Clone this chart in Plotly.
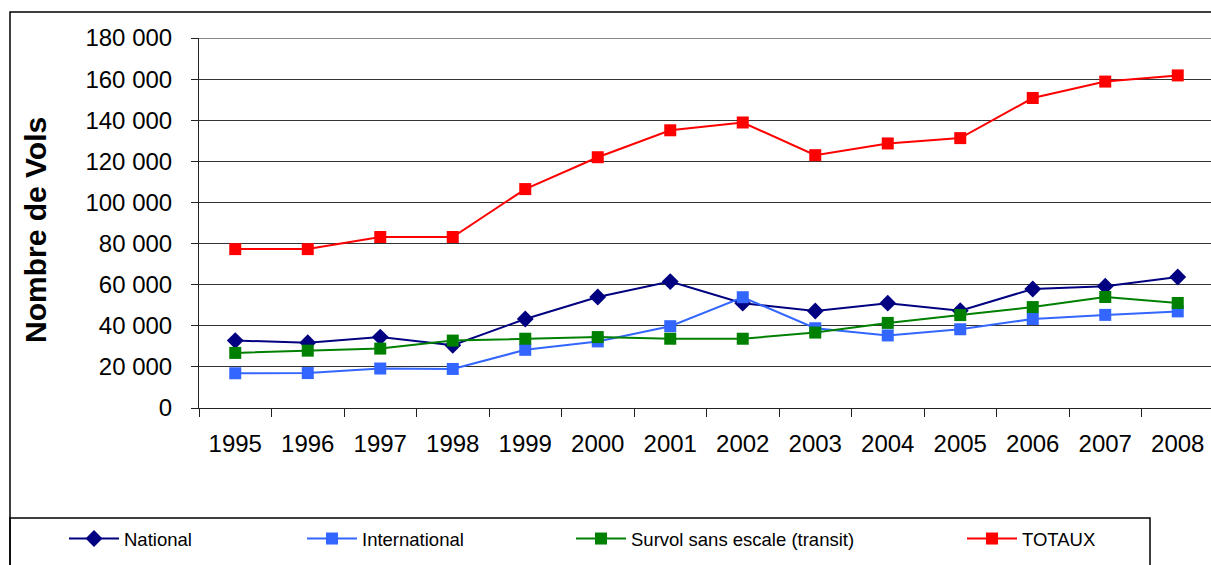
import plotly.graph_objects as go

years = ["1995", "1996", "1997", "1998", "1999", "2000", "2001",
         "2002", "2003", "2004", "2005", "2006", "2007", "2008"]
national = [32800, 31800, 34500, 30500, 43300, 54000, 61500,
            51000, 47200, 51000, 47300, 57900, 59200, 63700]
international = [16900, 17000, 19200, 19000, 28300, 32400, 39800,
                 53900, 38800, 35300, 38300, 43300, 45300, 47000]
survol = [26800, 27900, 28900, 32800, 33700, 34500, 33700,
          33700, 36700, 41400, 45200, 49100, 54000, 51100]
totaux = [77300, 77300, 83200, 83200, 106500, 122000, 135100,
          138900, 123000, 128700, 131300, 150800, 158800, 161800]

y_ticks = [0, 20000, 40000, 60000, 80000, 100000, 120000, 140000, 160000, 180000]
y_ticktext = ["0", "20 000", "40 000", "60 000", "80 000", "100 000",
              "120 000", "140 000", "160 000", "180 000"]

FONT = "Liberation Sans, Arial, sans-serif"

# pixel geometry helpers (plot area 199..1211 x 38..408)
L, R, T, B = 199, 1211, 38, 408
def px(x):
    return (x - L) / (R - L)
def py(y):
    return (B - y) / (B - T)

series = [
    ("National", national, "#000080", "diamond", 13, "legend"),
    ("International", international, "#3366FF", "square", 12, "legend2"),
    ("Survol sans escale (transit)", survol, "#008000", "square", 12, "legend3"),
    ("TOTAUX", totaux, "#FF0000", "square", 12, "legend4"),
]

fig = go.Figure()
for name, vals, col, sym, sz, lg in series:
    fig.add_trace(go.Scatter(
        x=years, y=vals, name=name, mode="lines+markers",
        line=dict(color=col, width=2),
        marker=dict(symbol=sym, size=sz, color=col),
        legend=lg, cliponaxis=False,
    ))

def legend_cfg(xpix):
    return dict(
        x=px(xpix), y=py(539), xanchor="left", yanchor="middle",
        orientation="h", bgcolor="rgba(0,0,0,0)", borderwidth=0,
        font=dict(family=FONT, size=18.5, color="black"),
        itemwidth=50, tracegroupgap=0,
    )

fig.update_layout(
    width=1211, height=565,
    margin=dict(l=L, r=1211 - R, t=T, b=565 - B, pad=0),
    paper_bgcolor="white", plot_bgcolor="white",
    showlegend=True,
    legend=legend_cfg(64),
    legend2=legend_cfg(302),
    legend3=legend_cfg(571),
    legend4=legend_cfg(962),
    xaxis=dict(
        type="category", range=[-0.5, 13.5 - 3 / 72.5],
        tickson="boundaries", ticks="outside", ticklen=8, tickcolor="#222",
        showline=True, linecolor="#222", linewidth=1,
        showgrid=False, tickfont=dict(family=FONT, size=24, color="black"),
        ticklabelstandoff=14,
    ),
    yaxis=dict(
        range=[0, 180000], tickvals=y_ticks, ticktext=y_ticktext,
        ticks="outside", ticklen=7, tickcolor="#222",
        showline=True, linecolor="#222", linewidth=1,
        showgrid=True, gridcolor="#333", gridwidth=1,
        zeroline=False,
        tickfont=dict(family=FONT, size=24, color="black"),
        ticklabelstandoff=14,
    ),
    annotations=[dict(
        text="<b>Nombre de Vols</b>", xref="paper", yref="paper",
        x=px(35), y=py(230), xanchor="center", yanchor="middle",
        textangle=-90, showarrow=False,
        font=dict(family=FONT, size=30, color="black"),
    )],
    shapes=[
        dict(type="rect", xref="paper", yref="paper",
             x0=px(10), x1=px(1216), y0=py(12), y1=py(570),
             line=dict(color="black", width=1.5), fillcolor="rgba(0,0,0,0)", layer="below"),
        dict(type="rect", xref="paper", yref="paper",
             x0=px(10), x1=px(1150), y0=py(518), y1=py(570),
             line=dict(color="black", width=1.5), fillcolor="rgba(0,0,0,0)", layer="below"),
        dict(type="line", xref="paper", yref="y",
             x0=0, x1=1, y0=180000, y1=180000,
             line=dict(color="#888", width=2), layer="below"),
    ],
)

fig.write_html("out.html")
